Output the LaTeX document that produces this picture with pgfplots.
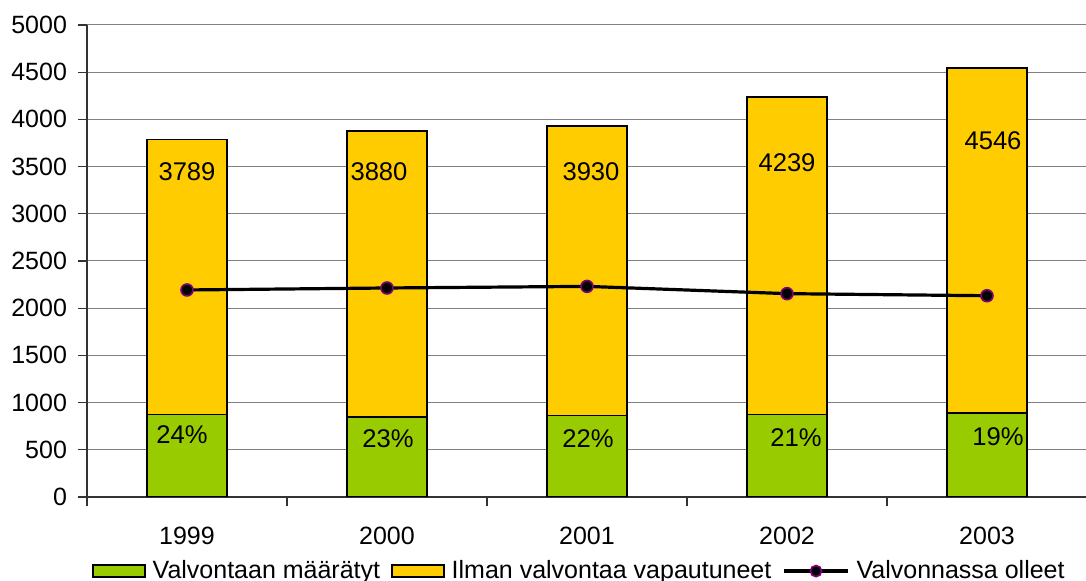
\documentclass[border=0pt]{standalone}
\usepackage{fontspec}
\setmainfont{Liberation Sans}
\usepackage{pgfplots}
\pgfplotsset{compat=1.18}
\definecolor{barGreen}{HTML}{99CC00}
\definecolor{barYellow}{HTML}{FFCC00}
\definecolor{markPurple}{HTML}{800080}

\begin{document}
\begin{tikzpicture}
\begin{axis}[
    scale only axis,
    width=500pt, height=236pt,
    xmin=-0.5, xmax=4.5, ymin=0, ymax=5000,
    axis x line*=bottom, axis y line*=left,
    axis line style={-, black!80, line width=0.6pt},
    xtick={0,...,4},
    xticklabels={1999,2000,2001,2002,2003},
    minor xtick={-0.5,0.5,...,4.5},
    ytick={0,500,...,5000},
    ymajorgrids,
    major grid style={gray, line width=0.5pt},
    tick style={black!80, line width=0.6pt},
    tick align=outside,
    major tick length=4.5pt, minor tick length=4.5pt,
    major x tick style={draw=none},
    scaled y ticks=false,
    /pgf/number format/1000 sep={},
    /pgf/number format/assume math mode=true,
    tick label style={font=\fontsize{12.5}{14}\selectfont},
    xticklabel style={yshift=-7pt},
    yticklabel style={xshift=-2pt},
    legend style={at={(0.0047,-0.157)}, anchor=west, draw=none, fill=none,
        inner sep=0pt, font=\fontsize{12.5}{14}\selectfont,
        /tikz/every odd column/.append style={column sep=1.5pt},
        /tikz/every even column/.append style={column sep=3.5pt}},
    legend columns=-1,
    legend cell align=left,
]
% legend entries
\addlegendimage{legend image code/.code={\draw[fill=barGreen, draw=black, line width=0.8pt] (0pt,-3pt) rectangle (26pt,3pt);}}
\addlegendentry{Valvontaan määrätyt}
\addlegendimage{legend image code/.code={\draw[fill=barYellow, draw=black, line width=0.8pt] (0pt,-3pt) rectangle (26pt,3pt);}}
\addlegendentry{Ilman valvontaa vapautuneet}
\addlegendimage{legend image code/.code={\draw[black, line width=1.6pt] (0pt,0pt) -- (32pt,0pt); \draw[markPurple, fill=black, line width=0.8pt] (16pt,0pt) circle (2.8pt);}}
\addlegendentry{Valvonnassa olleet}

% totals (yellow) and supervised share (green)
\addplot[ybar, bar width=40pt, bar shift=0pt, fill=barYellow, draw=black, line width=0.8pt, forget plot]
    coordinates {(0,3789) (1,3880) (2,3930) (3,4239) (4,4546)};
\addplot[ybar, bar width=40pt, bar shift=0pt, fill=barGreen, draw=black, line width=0.8pt, forget plot]
    coordinates {(0,872) (1,850) (2,865) (3,872) (4,890)};
\addplot[black, line width=1.6pt, mark=*, mark size=3pt,
    mark options={draw=markPurple, fill=black, line width=0.8pt}, forget plot]
    coordinates {(0,2193) (1,2214) (2,2231) (3,2154) (4,2132)};

\begin{scope}[font=\fontsize{12.8}{14}\selectfont, inner sep=0pt]
\node at (axis cs:0,3446) {3789};
\node at (axis cs:0.96,3443) {3880};
\node at (axis cs:2.02,3443) {3930};
\node at (axis cs:3.0,3544) {4239};
\node at (axis cs:4.03,3774) {4546};
\node at (axis cs:-0.025,660) {24\%};
\node at (axis cs:1.005,618) {23\%};
\node at (axis cs:2.005,618) {22\%};
\node at (axis cs:3.045,628) {21\%};
\node at (axis cs:4.055,638) {19\%};
\end{scope}
\end{axis}
\pgfresetboundingbox
\useasboundingbox (-43.5pt,-42pt) rectangle (499.5pt,248.5pt);
\end{tikzpicture}
\end{document}
